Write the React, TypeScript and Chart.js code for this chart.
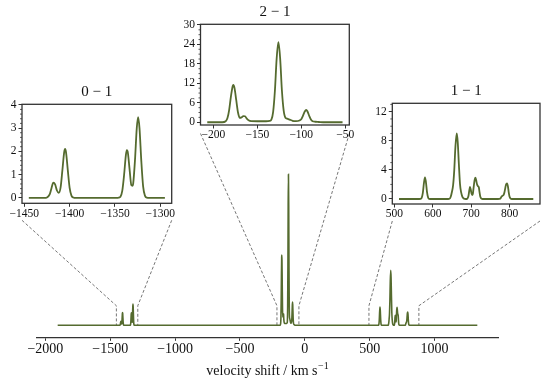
import React, { useEffect, useRef } from "react";
import { Chart, registerables } from "chart.js";

Chart.register(...registerables);

const FONT = '"Liberation Serif", "Times New Roman", serif';
const LINE_COLOR = "#556b2f";
const SPINE = "#333333";
const DASH = "#666666";
const TEXT = "#111111";

// ---- 0 - 1 band (velocity shift, intensity) ----
const vel01 = [-1445, -1428, -1425, -1422, -1420, -1418, -1416, -1414, -1412, -1410, -1408, -1406, -1405, -1404, -1402, -1400, -1398, -1396, -1393, -1348, -1346, -1344, -1342, -1340, -1338, -1337, -1336, -1334, -1332, -1330.7, -1330, -1328, -1326, -1324.5, -1323, -1321, -1319, -1317, -1315, -1312, -1295];
const int01 = [0, 0, 0.02, 0.15, 0.42, 0.66, 0.58, 0.32, 0.22, 0.44, 1.18, 1.97, 2.1, 1.97, 1.18, 0.43, 0.1, 0.02, 0, 0, 0.01, 0.05, 0.3, 0.98, 1.84, 2.05, 1.99, 1.26, 0.55, 0.52, 0.6, 1.6, 3.0, 3.47, 3.0, 1.59, 0.5, 0.1, 0.01, 0, 0];

// ---- 2 - 1 band ----
const vel21 = [-207, -190, -186, -184, -182, -180, -178, -177.3, -176, -174, -172, -170, -168, -166, -164, -162, -160, -157, -150, -140, -136, -134, -132, -130, -128, -126, -124, -122, -120, -118, -116, -114, -112, -110, -106, -102, -100, -98, -96, -94.4, -93, -91, -89, -87, -84, -80, -75, -53];
const int21 = [0, 0, 0.3, 1.29, 3.92, 8.06, 11.2, 11.5, 10.6, 6.8, 3.0, 1.35, 1.5, 1.9, 1.85, 1.1, 0.6, 0.35, 0.3, 0.3, 0.4, 0.8, 3.2, 9.7, 19.6, 24.7, 19.6, 9.7, 3.6, 1.4, 1.1, 0.9, 0.7, 0.45, 0.35, 0.55, 0.95, 2.05, 3.3, 3.8, 3.4, 2.0, 0.85, 0.3, 0.15, 0.08, 0, 0];

// ---- 1 - 1 band ----
const vel11 = [512, 565, 568, 571, 574, 577, 579.7, 582, 585, 588, 591, 595, 640, 644, 647, 650, 653, 656, 659, 662.4, 665, 668, 671, 674, 677, 680, 684, 688, 690, 693, 695, 697, 699, 701, 703, 704.5, 706.5, 709, 711, 713, 715.5, 718, 720, 722, 724, 727, 730, 770, 776, 779, 782, 785, 787, 789, 791, 793.5, 796, 798, 800, 803, 806, 862];
const int11 = [0, 0, 0.01, 0.14, 0.79, 2.2, 2.98, 2.4, 0.95, 0.18, 0.02, 0, 0, 0.05, 0.35, 1.0, 1.9, 3.97, 7.14, 9.0, 7.86, 4.8, 2.05, 0.9, 0.33, 0.1, 0.02, 0, 0.05, 0.4, 1.1, 1.65, 1.3, 0.75, 0.55, 0.7, 1.6, 2.6, 2.93, 2.6, 2.0, 1.75, 1.6, 0.9, 0.3, 0.05, 0, 0, 0.05, 0.3, 0.45, 0.6, 0.95, 1.5, 2.0, 2.15, 1.7, 0.9, 0.35, 0.05, 0, 0];

// ---- full spectrum ends ----
const mainStartVel = -1905;
const mainEndVel = 1330;

// ---- tick labels ----
const mainTicks = [-2000, -1500, -1000, -500, 0, 500, 1000];
const ticks01X = [-1450, -1400, -1350, -1300];
const ticks01Y = [0, 1, 2, 3, 4];
const ticks21X = [-200, -150, -100, -50];
const ticks21Y = [0, 6, 12, 18, 24, 30];
const ticks11X = [500, 600, 700, 800];
const ticks11Y = [0, 4, 8, 12];

const MAIN_Y_MIN = -1.96;
const MAIN_Y_MAX = 51.9;
const CONNECT_Y = 3.2;

type Box = { left: number; top: number; w: number; h: number };
type InsetSpec = {
  key: string;
  title: string;
  v: number[];
  i: number[];
  xTicks: number[];
  yTicks: number[];
  yMin: number;
  yMax: number;
  yMinor: number;
  box: Box;
  connOff: number;
};

const insets: InsetSpec[] = [
  { key: "01", title: "0 \u2212 1", v: vel01, i: int01, xTicks: ticks01X, yTicks: ticks01Y, yMin: -0.23, yMax: 4.02, yMinor: 0.2, box: { left: 22, top: 104.3, w: 149.7, h: 99 }, connOff: 17 },
  { key: "21", title: "2 \u2212 1", v: vel21, i: int21, xTicks: ticks21X, yTicks: ticks21Y, yMin: -0.85, yMax: 30.2, yMinor: 1.5, box: { left: 200.5, top: 24.3, w: 148.8, h: 100.7 }, connOff: 8.5 },
  { key: "11", title: "1 \u2212 1", v: vel11, i: int11, xTicks: ticks11X, yTicks: ticks11Y, yMin: -0.69, yMax: 13.15, yMinor: 1, box: { left: 392.3, top: 103.3, w: 147.7, h: 100.7 }, connOff: 17 },
];

function autoLimits(v: number[]): [number, number] {
  const lo = Math.min(...v);
  const hi = Math.max(...v);
  const m = 0.05 * (hi - lo);
  return [lo - m, hi + m];
}

const fmt = (n: any) => {
  const x = Number(n);
  return x < 0 ? "\u2212" + String(Math.abs(x)) : String(x);
};

const Y_W = 30;
const X_H = 24;
const PAD_T = 28;
const PAD_R = 14;

function Inset({ spec }: { spec: InsetSpec }) {
  const ref = useRef<HTMLCanvasElement>(null);
  const cLeft = Math.floor(spec.box.left - Y_W);
  const cTop = Math.floor(spec.box.top - PAD_T);
  const yW = spec.box.left - cLeft;
  const padT = spec.box.top - cTop;
  const cW = Math.ceil(yW + spec.box.w + PAD_R);
  const cH = Math.ceil(padT + spec.box.h + X_H);
  const padR = cW - yW - spec.box.w;
  const padB = cH - padT - spec.box.h - X_H;

  useEffect(() => {
    const [x0, x1] = autoLimits(spec.v);
    const decor = {
      id: "insetDecor" + spec.key,
      afterDraw(chart: any) {
        const { ctx, chartArea: a, scales } = chart;
        ctx.save();
        ctx.strokeStyle = SPINE;
        ctx.lineWidth = 1.3;
        ctx.strokeRect(a.left, a.top, a.right - a.left, a.bottom - a.top);
        ctx.lineWidth = 0.8;
        ctx.beginPath();
        const major = spec.yTicks[1] - spec.yTicks[0];
        for (let k = 0; k * spec.yMinor <= spec.yMax + 1e-9; k++) {
          const v = k * spec.yMinor;
          const r = v / major;
          if (Math.abs(r - Math.round(r)) < 1e-6) continue;
          const y = scales.y.getPixelForValue(v);
          ctx.moveTo(a.left, y);
          ctx.lineTo(a.left - 2, y);
        }
        ctx.stroke();
        ctx.fillStyle = TEXT;
        ctx.font = `15px ${FONT}`;
        ctx.textAlign = "center";
        ctx.textBaseline = "alphabetic";
        ctx.fillText(spec.title, (a.left + a.right) / 2, a.top - 8.5);
        ctx.restore();
      },
    };
    const chart = new Chart(ref.current as HTMLCanvasElement, {
      type: "line",
      data: {
        datasets: [
          {
            data: spec.v.map((x, k) => ({ x, y: spec.i[k] })),
            borderColor: LINE_COLOR,
            borderWidth: 1.8,
            pointRadius: 0,
            fill: false,
            cubicInterpolationMode: "monotone",
          },
        ],
      },
      options: {
        animation: false,
        responsive: false,
        events: [],
        layout: { padding: { top: padT, right: padR, left: 0, bottom: padB } },
        plugins: { legend: { display: false }, tooltip: { enabled: false }, title: { display: false } },
        scales: {
          x: {
            type: "linear",
            min: x0,
            max: x1,
            afterFit: (s: any) => { s.height = X_H; },
            afterBuildTicks: (s: any) => { s.ticks = spec.xTicks.map((value) => ({ value })); },
            ticks: { callback: (v: any) => fmt(v), font: { family: FONT, size: 11.5 }, color: TEXT, padding: 0, autoSkip: false, maxRotation: 0 },
            grid: { display: true, drawOnChartArea: false, drawTicks: true, tickLength: 3.5, color: SPINE, lineWidth: 1 },
            border: { display: false },
          },
          y: {
            type: "linear",
            min: spec.yMin,
            max: spec.yMax,
            afterFit: (s: any) => { s.width = yW; },
            afterBuildTicks: (s: any) => { s.ticks = spec.yTicks.map((value) => ({ value })); },
            ticks: { callback: (v: any) => fmt(v), font: { family: FONT, size: 11.5 }, color: TEXT, padding: 2, autoSkip: false },
            grid: { display: true, drawOnChartArea: false, drawTicks: true, tickLength: 3.5, color: SPINE, lineWidth: 1 },
            border: { display: false },
          },
        },
      } as any,
      plugins: [decor],
    });
    return () => chart.destroy();
  }, []);

  return (
    <canvas
      ref={ref}
      width={cW}
      height={cH}
      style={{ position: "absolute", left: cLeft, top: cTop, width: cW, height: cH }}
    />
  );
}

export default function App() {
  const ref = useRef<HTMLCanvasElement>(null);

  useEffect(() => {
    Chart.defaults.font.family = FONT;
    const xs = [mainStartVel, ...vel01, ...vel21, ...vel11, mainEndVel];
    const ys = [0, ...int01, ...int21, ...int11, 0];
    const [x0, x1] = autoLimits(xs);

    const mainDecor = {
      id: "mainDecor",
      beforeDatasetsDraw(chart: any) {
        const { ctx, scales } = chart;
        ctx.save();
        ctx.strokeStyle = DASH;
        ctx.lineWidth = 0.9;
        ctx.setLineDash([3, 2]);
        for (const s of insets) {
          const [l0, l1] = autoLimits(s.v);
          const yStart = s.box.top + s.box.h + s.connOff;
          const yc = scales.y.getPixelForValue(CONNECT_Y);
          const yb = scales.y.getPixelForValue(0);
          const pairs: [number, number][] = [
            [s.box.left, l0],
            [s.box.left + s.box.w, l1],
          ];
          for (const [bx, lv] of pairs) {
            const px = scales.x.getPixelForValue(lv);
            ctx.beginPath();
            ctx.moveTo(bx, yStart);
            ctx.lineTo(px, yc);
            ctx.lineTo(px, yb);
            ctx.stroke();
          }
        }
        ctx.restore();
      },
      afterDraw(chart: any) {
        const { ctx, chartArea: a } = chart;
        ctx.save();
        ctx.fillStyle = TEXT;
        ctx.textBaseline = "alphabetic";
        ctx.textAlign = "left";
        const mainText = "velocity shift / km s";
        const supText = "\u22121";
        ctx.font = `14px ${FONT}`;
        const w1 = ctx.measureText(mainText).width;
        ctx.font = `10px ${FONT}`;
        const w2 = ctx.measureText(supText).width;
        const cx = (a.left + a.right) / 2;
        const x = cx - (w1 + w2 + 0.5) / 2;
        const y = a.bottom + 37.5;
        ctx.font = `14px ${FONT}`;
        ctx.fillText(mainText, x, y);
        ctx.font = `10px ${FONT}`;
        ctx.fillText(supText, x + w1 + 0.5, y - 5.5);
        ctx.restore();
      },
    };

    const chart = new Chart(ref.current as HTMLCanvasElement, {
      type: "line",
      data: {
        datasets: [
          {
            data: xs.map((x, k) => ({ x, y: ys[k] })),
            borderColor: LINE_COLOR,
            borderWidth: 1.6,
            pointRadius: 0,
            fill: false,
            cubicInterpolationMode: "monotone",
          },
        ],
      },
      options: {
        animation: false,
        responsive: false,
        events: [],
        layout: { padding: { left: 36.7, right: 550 - 498.3, top: 8, bottom: 382 - 337.3 - 30 } },
        plugins: { legend: { display: false }, tooltip: { enabled: false }, title: { display: false } },
        scales: {
          x: {
            type: "linear",
            min: x0,
            max: x1,
            afterFit: (s: any) => { s.height = 30; },
            afterBuildTicks: (s: any) => { s.ticks = mainTicks.map((value) => ({ value })); },
            ticks: { callback: (v: any) => fmt(v), font: { family: FONT, size: 14 }, color: TEXT, padding: 0.5, autoSkip: false, maxRotation: 0 },
            grid: { display: true, drawOnChartArea: false, drawTicks: true, tickLength: 3.5, color: SPINE, lineWidth: 1 },
            border: { display: true, color: SPINE, width: 1.3 },
          },
          y: { type: "linear", display: false, min: MAIN_Y_MIN, max: MAIN_Y_MAX },
        },
      } as any,
      plugins: [mainDecor],
    });
    return () => chart.destroy();
  }, []);

  return (
    <div style={{ position: "absolute", left: 0, top: 0, width: 550, height: 382, overflow: "hidden", background: "#fff" }}>
      <canvas ref={ref} width={550} height={382} style={{ position: "absolute", left: 0, top: 0, width: 550, height: 382 }} />
      {insets.map((s) => (
        <Inset key={s.key} spec={s} />
      ))}
    </div>
  );
}
